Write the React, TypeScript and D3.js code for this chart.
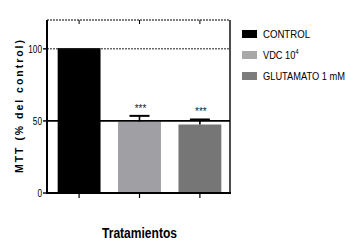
import React from "react";
import * as d3 from "d3";

const categories = ["CONTROL", "VDC 10^4", "GLUTAMATO 1 mM"];
const values = [100.5, 49.5, 47.5];
const errors = [0, 4, 3.5];
const significance = ["", "***", "***"];
const yTicks = [0, 50, 100];
const colors = ["#000000", "#a0a0a4", "#767676"];
const legendColors = ["#000000", "#a8a8a8", "#7c7c7c"];

const W = 359, H = 246;
const left = 47, right = 230, top = 20, bottom = 193;

export default function App() {
  const x = d3.scaleBand<string>().domain(categories).range([left + 1, right + 1]).paddingInner(0.29).paddingOuter(0.16);
  const y = d3.scaleLinear().domain([0, 120]).range([bottom, top]);
  const font = "'Liberation Sans', Arial, sans-serif";
  return (
    <svg width={W} height={H} style={{ position: "absolute", left: 0, top: 0, background: "#fff" }} fontFamily={font}>
      {/* bars */}
      {categories.map((c, i) => (
        <rect key={c} x={x(c)} y={y(values[i])} width={x.bandwidth()} height={y(0) - y(values[i])} fill={colors[i]} />
      ))}
      {/* reference lines */}
      <line x1={left} x2={right} y1={y(100)} y2={y(100)} stroke="#222" strokeWidth={1} strokeDasharray="2,1" />
      <line x1={left} x2={right} y1={y(50)} y2={y(50)} stroke="#000" strokeWidth={1.6} />
      {/* error bars */}
      {categories.map((c, i) =>
        errors[i] > 0 ? (
          <g key={"e" + c}>
            <line x1={x(c)! + x.bandwidth() / 2} x2={x(c)! + x.bandwidth() / 2} y1={y(values[i])} y2={y(values[i] + errors[i])} stroke="#000" strokeWidth={1.6} />
            <line x1={x(c)! + x.bandwidth() / 2 - 10} x2={x(c)! + x.bandwidth() / 2 + 10} y1={y(values[i] + errors[i])} y2={y(values[i] + errors[i])} stroke="#000" strokeWidth={2} />
          </g>
        ) : null
      )}
      {/* significance */}
      {categories.map((c, i) =>
        significance[i] ? (
          <text key={"s" + c} x={x(c)! + x.bandwidth() / 2 + 1} y={y(values[i] + errors[i]) - 4} textAnchor="middle" fontSize={10} fill="#222">{significance[i]}</text>
        ) : null
      )}
      {/* frame */}
      <line x1={left} x2={right} y1={top} y2={top} stroke="#000" strokeWidth={1} strokeDasharray="2,1" />
      <line x1={right} x2={right} y1={top} y2={bottom} stroke="#000" strokeWidth={1.4} />
      <line x1={left} x2={left} y1={top} y2={bottom + 1} stroke="#000" strokeWidth={2} />
      <line x1={left - 1} x2={right + 1} y1={bottom} y2={bottom} stroke="#000" strokeWidth={2} />
      {/* x ticks */}
      {categories.map((c) => {
        const cx = x(c)! + x.bandwidth() / 2;
        return (
          <g key={"t" + c}>
            <line x1={cx} x2={cx} y1={bottom} y2={bottom + 5} stroke="#000" strokeWidth={1.2} />
            <line x1={cx} x2={cx} y1={top} y2={top + 4} stroke="#000" strokeWidth={1} />
          </g>
        );
      })}
      {/* y ticks */}
      {yTicks.map((t) => (
        <g key={"y" + t}>
          <line x1={left - 4} x2={left} y1={y(t)} y2={y(t)} stroke="#000" strokeWidth={1.4} />
          <text x={left - 5} y={y(t) + 4} textAnchor="end" fontSize={11} transform={`translate(${left - 5},0) scale(0.75,1) translate(${-(left - 5)},0)`}>{t}</text>
        </g>
      ))}
      {/* y title */}
      <text transform={`translate(23,106.5) rotate(-90)`} textAnchor="middle" fontSize={10.5} fontWeight="bold" textLength={133} lengthAdjust="spacing">MTT (% del control)</text>
      {/* x title */}
      <text x={139.5} y={238} textAnchor="middle" fontSize={14} fontWeight="bold" textLength={75} lengthAdjust="spacingAndGlyphs">Tratamientos</text>
      {/* legend */}
      {categories.map((c, i) => {
        const ly = 30 + i * 21;
        return (
          <g key={"l" + c}>
            <rect x={242} y={ly} width={15} height={8} fill={legendColors[i]} />
            {i === 1 ? (
              <text x={263} y={ly + 8} fontSize={10.5} transform={`translate(263,0) scale(0.88,1) translate(-263,0)`}>
                VDC 10<tspan dy={-4.5} fontSize={7}>4</tspan>
              </text>
            ) : (
              <text x={263} y={ly + 8} fontSize={10.5} textLength={i === 0 ? 47 : 82} lengthAdjust="spacingAndGlyphs">{c}</text>
            )}
          </g>
        );
      })}
    </svg>
  );
}
